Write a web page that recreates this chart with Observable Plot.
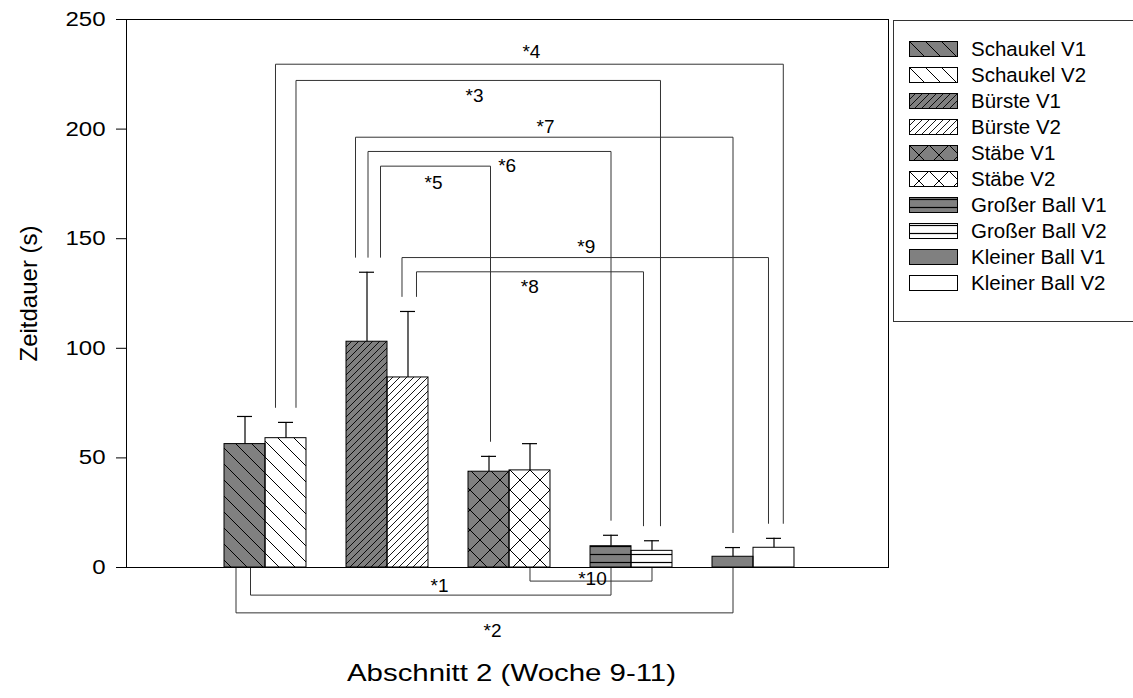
<!DOCTYPE html>
<html><head><meta charset="utf-8">
<script src="https://cdn.jsdelivr.net/npm/d3@7"></script>
<script src="https://cdn.jsdelivr.net/npm/@observablehq/plot@0.6"></script>
<style>
html,body{margin:0;padding:0;background:#fff;overflow:hidden;}
#wrap{position:relative;width:1133px;height:698px;font-family:"Liberation Sans",Arial,sans-serif;}
#legend{position:absolute;left:893px;top:20px;width:280px;height:302px;border:1px solid #333;box-sizing:border-box;background:#fff;}
.row{position:absolute;left:15px;height:20px;display:flex;align-items:center;font-size:20.5px;color:#000;white-space:nowrap;}
.row svg{margin-right:13px;flex:none;}
</style></head><body>
<svg width="0" height="0" style="position:absolute">
<defs>
<pattern id="p-schaukel" patternUnits="userSpaceOnUse" width="16" height="16"><path d="M-4,-4L20,20M-4,12L4,20M12,-4L20,4" stroke="#000" stroke-width="1" fill="none"/></pattern>
<pattern id="p-buerste" patternUnits="userSpaceOnUse" width="7" height="7"><path d="M-1,8L8,-1M-1,1L1,-1M6,8L8,6" stroke="#000" stroke-width="0.9" fill="none"/></pattern>
<pattern id="p-staebe" patternUnits="userSpaceOnUse" width="20" height="20"><path d="M-5,-5L25,25M-5,15L5,25M15,-5L25,5M-5,25L25,-5M-5,5L5,-5M15,25L25,15" stroke="#000" stroke-width="1" fill="none"/></pattern>
<pattern id="p-ball" patternUnits="userSpaceOnUse" width="8" height="8"><path d="M0,2.5L8,2.5" stroke="#000" stroke-width="1.2" fill="none"/></pattern>
</defs></svg>
<div id="wrap"><div id="chart"></div><div id="legend"></div></div>
<script>
// ---- data ----
const groups = ["Schaukel", "Bürste", "Stäbe", "Großer Ball", "Kleiner Ball"];
const versions = ["V1", "V2"];
const meanV1 = [56.3, 103.0, 43.7, 9.7, 4.9];
const meanV2 = [59.0, 86.7, 44.3, 7.6, 9.0];
const seV1 = [12.6, 31.7, 7.0, 5.0, 4.2];
const seV2 = [7.2, 30.1, 12.2, 4.6, 4.3];
const yTicks = [0, 50, 100, 150, 200, 250];
const yLabel = "Zeitdauer (s)";
const xLabel = "Abschnitt 2 (Woche 9-11)";
// significance brackets
const sigLabels = ["*1", "*2", "*3", "*4", "*5", "*6", "*7", "*8", "*9", "*10"];
const sigFrom = ["Schaukel V1", "Schaukel V1", "Schaukel V2", "Schaukel V2", "Bürste V1", "Bürste V1", "Bürste V1", "Bürste V2", "Bürste V2", "Stäbe V2"];
const sigTo = ["Großer Ball V1", "Kleiner Ball V1", "Großer Ball V2", "Kleiner Ball V2", "Stäbe V1", "Großer Ball V1", "Kleiner Ball V1", "Großer Ball V2", "Kleiner Ball V2", "Großer Ball V2"];
const sigLevel = [-12.6, -20.7, 222.2, 229.6, 183.1, 189.8, 196.3, 134.9, 141.4, -6.2];

// ---- layout (not data) ----
const barW = 0.336;          // bar width in group units
const pxPerUnit = 122;       // group spacing in px
const endOffsetPx = [[5.5, 0], [-9, 0], [10, 8.5], [-10.5, 9.3], [13.5, 1.5], [1, 0], [-11.5, 0], [8.5, -8.5], [-6, -5.5], [0, 0]];
const labelPos = [[1.426, -8.2], [1.861, -28.7], [1.713, 215.3], [2.180, 235.1], [1.377, 175.6], [1.981, 183.4], [2.295, 200.9], [2.166, 127.9], [2.629, 146.4], [2.680, -5.0]];
const gapUnits = 6.84;
const patterns = ["url(#p-schaukel)", "url(#p-buerste)", "url(#p-staebe)", "url(#p-ball)", "none"];
const baseFill = ["#808080", "#ffffff"];

const bars = [];
groups.forEach((g, i) => versions.forEach((v, j) => {
  const mean = j ? meanV2[i] : meanV1[i];
  const se = j ? seV2[i] : seV1[i];
  bars.push({key: g + " " + v, i, j, x1: j ? i : i - barW, x2: j ? i + barW : i, cx: j ? i + barW / 2 : i - barW / 2, mean, top: mean + se});
}));
const byKey = Object.fromEntries(bars.map(d => [d.key, d]));

const bracketPts = [];
sigLabels.forEach((lab, k) => {
  const a = byKey[sigFrom[k]], b = byKey[sigTo[k]];
  const xa = a.cx + endOffsetPx[k][0] / pxPerUnit, xb = b.cx + endOffsetPx[k][1] / pxPerUnit;
  const lvl = sigLevel[k];
  const ya = lvl > 0 ? a.top + gapUnits : 0;
  const yb = lvl > 0 ? b.top + gapUnits : 0;
  bracketPts.push({z: lab, x: xa, y: ya}, {z: lab, x: xa, y: lvl}, {z: lab, x: xb, y: lvl}, {z: lab, x: xb, y: yb});
});
const labelData = sigLabels.map((t, k) => ({t, x: labelPos[k][0], y: labelPos[k][1]}));

const capHalf = 7.5 / pxPerUnit;
const marks = [
  Plot.rect(bars, {x1: "x1", x2: "x2", y1: 0, y2: "mean", fill: d => baseFill[d.j]}),
];
groups.forEach((g, i) => {
  marks.push(Plot.rect(bars.filter(d => d.i === i), {x1: "x1", x2: "x2", y1: 0, y2: "mean", fill: patterns[i], stroke: "#000", strokeWidth: 1}));
});
marks.push(
  Plot.ruleX(bars, {x: "cx", y1: "mean", y2: "top", stroke: "#000", strokeWidth: 1.2}),
  Plot.ruleY(bars, {y: "top", x1: d => d.cx - capHalf, x2: d => d.cx + capHalf, stroke: "#000", strokeWidth: 1.2}),
  Plot.line(bracketPts, {x: "x", y: "y", z: "z", stroke: "#333", strokeWidth: 1, curve: "linear"}),
  Plot.text(labelData, {x: "x", y: "y", text: "t", fontSize: 19, fill: "#000", textAnchor: "middle", lineAnchor: "middle"}),
  Plot.frame({stroke: "#000", strokeWidth: 1}),
  Plot.axisY(yTicks, {tickSize: 10, tickPadding: 11, fontSize: 20, label: null, stroke: "#000", fill: "#000"}),
  Plot.text([yLabel], {frameAnchor: "left", rotate: -90, dx: -97, fontSize: 24, fill: "#000", textAnchor: "middle", lineAnchor: "middle"}),
  Plot.text([xLabel], {frameAnchor: "bottom", dy: 106, dx: 4, fontSize: 24.5, fill: "#000", textAnchor: "middle", lineAnchor: "middle"})
);

const chart = Plot.plot({
  width: 1133,
  height: 698,
  marginLeft: 126,
  marginRight: 245,
  marginTop: 19,
  marginBottom: 131,
  x: {domain: [-139 / pxPerUnit, 623 / pxPerUnit], axis: null},
  y: {domain: [0, 250], axis: null},
  color: {type: "identity"},
  style: {fontFamily: "Liberation Sans, Arial, sans-serif", fontSize: "20px", background: "#fff", color: "#000", overflow: "visible"},
  marks
});
document.getElementById("chart").appendChild(chart);

// horizontally widened lettering, as in the reference (via textLength)
function widen(textEl, factor) {
  const w = textEl.getComputedTextLength();
  if (w > 0) {
    textEl.setAttribute("textLength", (w * factor).toFixed(2));
    textEl.setAttribute("lengthAdjust", "spacingAndGlyphs");
  }
}
chart.querySelectorAll("text").forEach(t => {
  const s = t.textContent;
  if (yTicks.map(String).includes(s)) widen(t, 1.2);
  else if (s === xLabel) widen(t, 1.2);
});

// legend
const legend = document.getElementById("legend");
bars.forEach((d, k) => {
  const row = document.createElement("div");
  row.className = "row";
  row.style.top = (17.5 + k * 26.1) + "px";
  row.innerHTML = `<svg width="49" height="16"><rect x="0.5" y="0.5" width="48" height="15" fill="${baseFill[d.j]}"/><rect x="0.5" y="0.5" width="48" height="15" fill="${patterns[d.i]}" stroke="#000" stroke-width="1"/></svg><span>${d.key}</span>`;
  legend.appendChild(row);
});
</script>
</body></html>
